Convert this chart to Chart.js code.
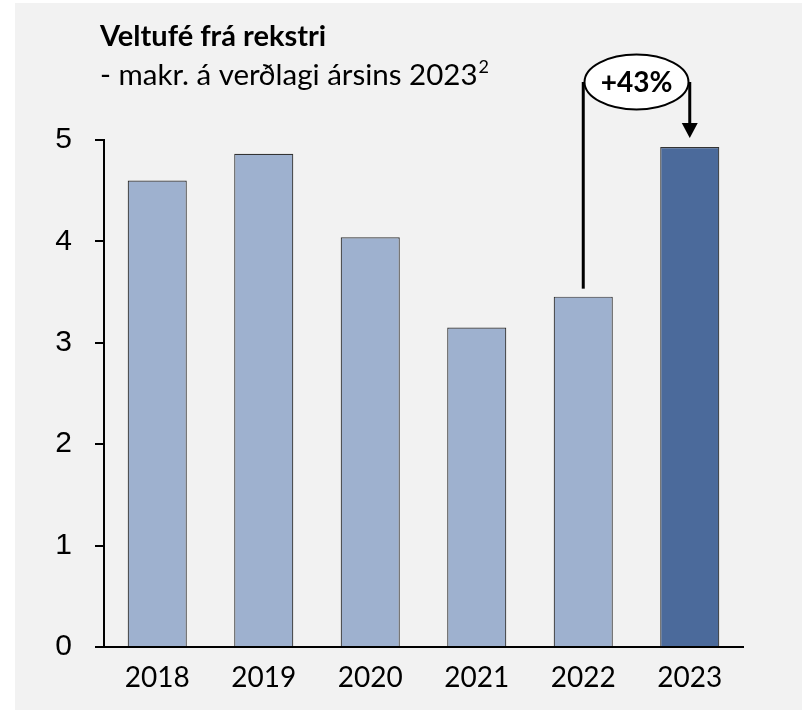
<!DOCTYPE html>
<html lang="is">
<head>
  <meta charset="UTF-8">
  <title>Veltufé frá rekstri</title>
  <style>
    body {
      margin: 0;
      padding: 0;
      background: #ffffff;
    }
    canvas {
      display: block;
    }
  </style>
</head>
<body>
  <canvas id="barChart" width="802" height="710"></canvas>

  <script src="https://cdn.jsdelivr.net/npm/chart.js"></script>
  <script>
    // Gögn
    const years = ['2018', '2019', '2020', '2021', '2022', '2023'];
    const values = [4.60, 4.865, 4.04, 3.15, 3.455, 4.93];
    const yTicks = [0, 1, 2, 3, 4, 5];
    const title = 'Veltufé frá rekstri';
    const subtitle = '- makr. á verðlagi ársins 2023';
    const subtitleSup = '2';
    const growthLabel = '+43%';
    const growthFrom = 4; // 2022
    const growthTo = 5;   // 2023

    const lightBar = '#9eb1cf';
    const darkBar = '#4b6a9b';

    // bakgrunnur og titill
    const backgroundPlugin = {
      id: 'background',
      beforeDraw(chart) {
        const ctx = chart.ctx;
        ctx.save();
        ctx.fillStyle = '#ffffff';
        ctx.fillRect(0, 0, chart.width, chart.height);
        ctx.fillStyle = '#f2f2f2';
        ctx.fillRect(15, 3, chart.width - 15, chart.height - 3);

        ctx.fillStyle = '#000000';
        ctx.textBaseline = 'alphabetic';
        ctx.textAlign = 'left';
        ctx.font = 'bold 29px Lato';
        ctx.fillText(title, 100, 46);
        ctx.font = '29.5px Lato';
        ctx.fillText(subtitle, 100, 85);
        const w = ctx.measureText(subtitle).width;
        ctx.font = '18px Lato';
        ctx.fillText(subtitleSup, 100 + w + 1, 73);
        ctx.restore();
      }
    };

    // ör og sporbaugur með vexti
    const growthPlugin = {
      id: 'growth',
      afterDatasetsDraw(chart) {
        const ctx = chart.ctx;
        const meta = chart.getDatasetMeta(0);
        const a = meta.data[growthFrom];
        const b = meta.data[growthTo];
        const cy = 82;
        const cx = (a.x + b.x) / 2;
        const rx = 52, ry = 27.5;

        ctx.save();
        ctx.strokeStyle = '#000000';
        ctx.lineWidth = 3;

        ctx.beginPath();
        ctx.moveTo(a.x, a.y - 8);
        ctx.lineTo(a.x, cy);
        ctx.stroke();

        const tipY = b.y - 9;
        ctx.beginPath();
        ctx.moveTo(b.x, cy);
        ctx.lineTo(b.x, tipY - 14);
        ctx.stroke();

        ctx.fillStyle = '#000000';
        ctx.beginPath();
        ctx.moveTo(b.x - 8, tipY - 15);
        ctx.lineTo(b.x + 8, tipY - 15);
        ctx.lineTo(b.x, tipY);
        ctx.closePath();
        ctx.fill();

        ctx.lineWidth = 2;
        ctx.fillStyle = '#ffffff';
        ctx.beginPath();
        ctx.ellipse(cx, cy, rx, ry, 0, 0, Math.PI * 2);
        ctx.fill();
        ctx.stroke();

        ctx.fillStyle = '#000000';
        ctx.font = 'bold 28px Lato';
        ctx.textAlign = 'center';
        ctx.textBaseline = 'middle';
        ctx.fillText(growthLabel, cx, cy + 1);
        ctx.restore();
      }
    };

    const ctx = document.getElementById('barChart').getContext('2d');
    new Chart(ctx, {
      type: 'bar',
      data: {
        labels: years,
        datasets: [{
          data: values,
          backgroundColor: years.map((y, i) => i === years.length - 1 ? darkBar : lightBar),
          borderColor: '#333333',
          borderWidth: 1.2,
          borderSkipped: 'bottom',
          categoryPercentage: 1,
          barPercentage: 0.555
        }]
      },
      options: {
        responsive: false,
        animation: false,
        layout: {
          padding: { top: 140, right: 59, bottom: 0, left: 0 }
        },
        plugins: {
          legend: { display: false },
          tooltip: { enabled: false }
        },
        scales: {
          x: {
            grid: { display: true, drawOnChartArea: false, drawTicks: false },
            border: { display: true, color: '#000000', width: 2 },
            ticks: {
              color: '#000000',
              font: { family: 'Lato', size: 28 },
              padding: 14,
              maxRotation: 0
            },
            afterFit(scale) { scale.height = 63; }
          },
          y: {
            min: 0,
            max: 5,
            afterBuildTicks(scale) { scale.ticks = yTicks.map(v => ({ value: v })); },
            grid: {
              drawOnChartArea: false,
              drawTicks: true,
              tickLength: 9,
              color: '#000000',
              lineWidth: 2
            },
            border: { display: true, color: '#000000', width: 2 },
            ticks: {
              color: '#000000',
              font: { family: 'Liberation Sans', size: 30 },
              padding: 23
            },
            afterFit(scale) { scale.width = 104; }
          }
        }
      },
      plugins: [backgroundPlugin, growthPlugin]
    });
  </script>
</body>
</html>
